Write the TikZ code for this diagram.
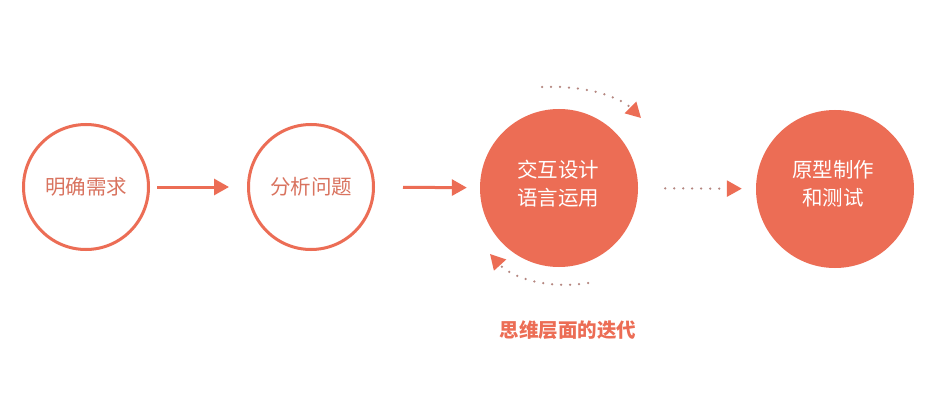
\documentclass[tikz,border=0pt]{standalone}
\usepackage{fontspec}
\newfontfamily\cjk{Noto Sans CJK SC}
\usetikzlibrary{arrows.meta}
\definecolor{coral}{HTML}{EC6D55}
\definecolor{ringtext}{HTML}{D9735F}
\definecolor{dotgray}{HTML}{B58680}
\tikzset{
  ring/.style={circle, draw=coral, line width=3pt, minimum size=125pt, inner sep=0pt, text=ringtext, font=\cjk\fontsize{20.5}{28}\selectfont, align=center},
  disc/.style={circle, fill=coral, minimum size=158pt, inner sep=0pt},
  disctext/.style={text=white, font=\cjk\fontsize{20.5}{28}\selectfont, align=center},
  flow/.style={draw=coral, line width=3pt, -{Triangle[length=15pt,width=16pt]}},
  dots/.style={draw=dotgray, line width=2.5pt, line cap=round, dash pattern=on 0pt off 9pt, -{Triangle[length=15pt,width=16pt,color=coral,fill=coral]}}
}
\begin{document}
\begin{tikzpicture}[x=1pt,y=-1pt]
\useasboundingbox (0,0) rectangle (942,409);
\fill[white] (0,0) rectangle (942,409);
% four steps
\node[ring] (need) at (86,187) {明确需求};
\node[ring] (anal) at (311,187) {分析问题};
\node[disc] (lang) at (559,188) {};
\node[disc] (test) at (835,189) {};
\node[disctext] (langtxt) at (558,183.5) {交互设计\\语言运用};
\node[disctext] (testtxt) at (833,184) {原型制作\\和测试};
% links
\draw[flow, shorten <=7pt, shorten >=18pt] (need) -- (anal);
\draw[flow, shorten <=28pt, shorten >=13pt] (anal) -- (lang);
\draw[dots, shorten <=27pt, shorten >=14pt] (lang) -- (test);
% loop round the third step
\coordinate (topA) at (542,87);
\coordinate (topB) at (641,118);
\coordinate (botA) at (588,283);
\coordinate (botB) at (490,254);
\draw[dots] (topA) .. controls (588,85) and (621,98) .. (topB);
\draw[dots] (botA) .. controls (545,290) and (510,276) .. (botB);
\node[text=coral, font=\cjk\bfseries\fontsize{19.5}{22}\selectfont] (iter) at (568,330) {思维层面的迭代};
\end{tikzpicture}
\end{document}
